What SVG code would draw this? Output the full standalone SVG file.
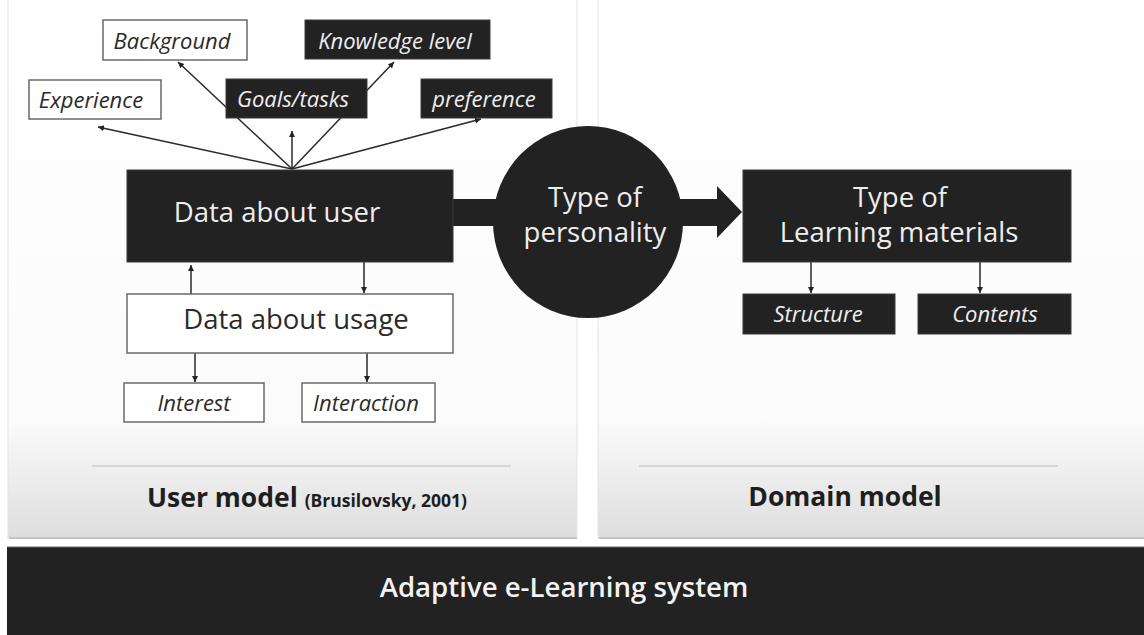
<svg xmlns="http://www.w3.org/2000/svg" width="1144" height="635" viewBox="0 0 1144 635">
<defs>
<linearGradient id="panelGrad" x1="0" y1="0" x2="0" y2="1">
<stop offset="0" stop-color="#ffffff"/>
<stop offset="0.78" stop-color="#fbfbfb"/>
<stop offset="1" stop-color="#dedede"/>
</linearGradient>
<marker id="arr" markerWidth="7" markerHeight="7" refX="6" refY="3" orient="auto" markerUnits="userSpaceOnUse">
<path d="M0,0 L6,3 L0,6 z" fill="#222"/>
</marker>
</defs>
<style>
.panel{fill:url(#panelGrad);stroke:#e4e4e4;stroke-width:1}
.sep{stroke:#d6d6d6;stroke-width:2}
.dark{fill:#222;stroke:#3a3a3a;stroke-width:1}
.light{fill:#fff;stroke:#6a6a6a;stroke-width:1.5}
.lbl{font-family:"Open Sans","Noto Sans",sans-serif;font-style:italic;font-size:22px;text-anchor:middle}
.big{font-family:"Open Sans","Noto Sans",sans-serif;font-size:27.5px;text-anchor:middle}
.w{fill:#eeeeee}
.k{fill:#2a2a2a}
.con{stroke:#2a2a2a;stroke-width:1.5;fill:none;marker-end:url(#arr)}
.title{font-family:"Open Sans","Noto Sans",sans-serif;font-weight:bold;fill:#1e1e1e;text-anchor:middle}
</style>
<rect width="1144" height="635" fill="#ffffff"/>

<g id="user-model-panel">
<rect class="panel" x="8" y="-2" width="569" height="540"/>
<line class="sep" x1="92" y1="466" x2="511" y2="466"/>
<line x1="9" y1="538" x2="577" y2="538" stroke="#c4c4c4" stroke-width="2"/>
<text class="title" x="307" y="507" font-size="26.5">User model <tspan font-size="17.5">(Brusilovsky, 2001)</tspan></text>
</g>

<g id="domain-model-panel">
<rect class="panel" x="598" y="-2" width="550" height="540"/>
<line class="sep" x1="639" y1="466" x2="1058" y2="466"/>
<line x1="599" y1="538" x2="1144" y2="538" stroke="#c4c4c4" stroke-width="2"/>
<text class="title" x="845" y="506" font-size="26.5">Domain model</text>
</g>

<g id="adaptive-system">
<rect x="7" y="547" width="1140" height="90" fill="#222"/>
<line x1="7" y1="547" x2="1144" y2="547" stroke="#666" stroke-width="1"/>
<text x="564" y="597" font-family="'Open Sans','Noto Sans',sans-serif" font-weight="600" font-size="27.6" fill="#f2f2f2" text-anchor="middle">Adaptive e-Learning system</text>
</g>

<g id="connectors">
<line class="con" x1="292" y1="169" x2="98" y2="127"/>
<line class="con" x1="292" y1="169" x2="178" y2="62"/>
<line class="con" x1="292" y1="169" x2="292" y2="131"/>
<line class="con" x1="292" y1="169" x2="394" y2="62"/>
<line class="con" x1="292" y1="169" x2="481" y2="119"/>
<line class="con" x1="191" y1="294" x2="191" y2="265"/>
<line class="con" x1="364" y1="262" x2="364" y2="293"/>
<line class="con" x1="195" y1="353" x2="195" y2="382"/>
<line class="con" x1="367" y1="353" x2="367" y2="382"/>
<line class="con" x1="811" y1="262" x2="811" y2="293"/>
<line class="con" x1="980" y1="262" x2="980" y2="293"/>
<path d="M452,199 L717,199 L717,186 L742,212 L717,238 L717,226 L452,226 z" fill="#222"/>
</g>

<g id="background">
<rect class="light" x="103" y="20" width="144" height="40"/>
<text class="lbl k" x="172" y="49">Background</text>
</g>
<g id="knowledge-level">
<rect class="dark" x="305" y="20" width="185" height="39"/>
<text class="lbl w" x="395" y="49">Knowledge level</text>
</g>
<g id="experience">
<rect class="light" x="29" y="80" width="132" height="39"/>
<text class="lbl k" x="91" y="108">Experience</text>
</g>
<g id="goals-tasks">
<rect class="dark" x="226" y="79" width="141" height="39"/>
<text class="lbl w" x="293" y="107">Goals/tasks</text>
</g>
<g id="preference">
<rect class="dark" x="421" y="79" width="131" height="39"/>
<text class="lbl w" x="484" y="107">preference</text>
</g>

<g id="data-about-user">
<rect class="dark" x="127" y="170" width="326" height="92"/>
<text class="big w" x="277" y="222">Data about user</text>
</g>
<g id="data-about-usage">
<rect class="light" x="127" y="294" width="326" height="59"/>
<text class="big k" x="296" y="329">Data about usage</text>
</g>
<g id="interest">
<rect class="light" x="124" y="383" width="140" height="39"/>
<text class="lbl k" x="194" y="411">Interest</text>
</g>
<g id="interaction">
<rect class="light" x="302" y="383" width="133" height="39"/>
<text class="lbl k" x="366" y="411">Interaction</text>
</g>

<g id="type-of-personality">
<ellipse cx="588" cy="222" rx="95" ry="96" fill="#222"/>
<text class="big w" x="595" y="207">Type of</text>
<text class="big w" x="595" y="242">personality</text>
</g>

<g id="type-of-learning-materials">
<rect class="dark" x="743" y="170" width="328" height="92"/>
<text class="big w" x="900" y="207">Type of</text>
<text class="big w" x="899" y="242">Learning materials</text>
</g>
<g id="structure">
<rect class="dark" x="743" y="294" width="152" height="40"/>
<text class="lbl w" x="818" y="322">Structure</text>
</g>
<g id="contents">
<rect class="dark" x="918" y="294" width="153" height="40"/>
<text class="lbl w" x="995" y="322">Contents</text>
</g>
</svg>
